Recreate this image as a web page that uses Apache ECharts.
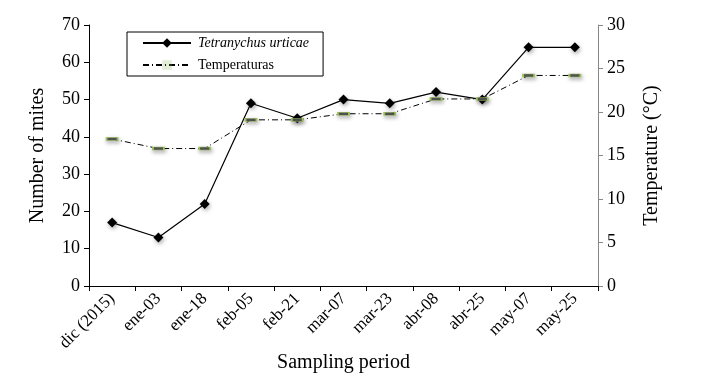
<!DOCTYPE html>
<html><head><meta charset="utf-8">
<script src="https://cdn.jsdelivr.net/npm/echarts@6/dist/echarts.min.js"></script>
<style>html,body{margin:0;padding:0;background:#fff}#c{width:707px;height:386px}</style>
</head><body><div id="c"></div>
<script>
const categories = ['dic (2015)','ene-03','ene-18','feb-05','feb-21','mar-07','mar-23','abr-08','abr-25','may-07','may-25'];
const mites = [17, 13, 22, 49, 45, 50, 49, 52, 50, 64, 64];
const temperature = [16.9, 15.8, 15.8, 19.1, 19.1, 19.8, 19.8, 21.5, 21.5, 24.2, 24.2];
const leftTicks = {min: 0, max: 70, interval: 10};
const rightTicks = {min: 0, max: 30, interval: 5};

const F = 'Liberation Serif, Times New Roman, serif';
const chart = echarts.init(document.getElementById('c'));
chart.setOption({
  animation: false,
  backgroundColor: '#fff',
  grid: {left: 89, right: 109, top: 25, bottom: 100},
  legend: {
    orient: 'vertical', left: 127, top: 32,
    borderColor: '#000', borderWidth: 1, padding: [4, 14, 4, 15],
    itemWidth: 48, itemHeight: 12, itemGap: 8,
    textStyle: {fontFamily: F, fontSize: 14, color: '#000', padding: [0, 0, 0, 2]},
    data: [
      {name: 'Tetranychus urticae', textStyle: {fontStyle: 'italic'}, itemStyle: {shadowBlur: 0, shadowOffsetX: 0, shadowOffsetY: 0}},
      {name: 'Temperaturas', itemStyle: {borderWidth: 0, color: '#8fb55a', opacity: 0.25, shadowBlur: 0, shadowOffsetX: 0, shadowOffsetY: 0}}
    ]
  },
  xAxis: {
    type: 'category', data: categories, boundaryGap: true,
    name: 'Sampling period', nameLocation: 'middle', nameGap: 67, nameMoveOverlap: false,
    nameTextStyle: {fontFamily: F, fontSize: 20, color: '#000'},
    axisLine: {lineStyle: {color: '#000', width: 1}},
    axisTick: {show: true, length: 5, alignWithLabel: false, lineStyle: {color: '#000'}},
    axisLabel: {rotate: 45, fontFamily: F, fontSize: 17, color: '#000', margin: 10, interval: 0}
  },
  yAxis: [{
    type: 'value', min: leftTicks.min, max: leftTicks.max, interval: leftTicks.interval,
    name: 'Number of mites', nameLocation: 'middle', nameGap: 41, nameRotate: 90,
    nameTextStyle: {fontFamily: F, fontSize: 20, color: '#000'},
    axisLine: {show: true, lineStyle: {color: '#000'}},
    axisTick: {show: true, length: 5, lineStyle: {color: '#000'}},
    splitLine: {show: false},
    axisLabel: {fontFamily: F, fontSize: 18, color: '#000', margin: 9}
  }, {
    type: 'value', min: rightTicks.min, max: rightTicks.max, interval: rightTicks.interval,
    position: 'right',
    name: 'Temperature (°C)', nameLocation: 'middle', nameGap: 44, nameRotate: 90,
    nameTextStyle: {fontFamily: F, fontSize: 20, color: '#000'},
    axisLine: {show: true, lineStyle: {color: '#888'}},
    axisTick: {show: true, length: 5, lineStyle: {color: '#888'}},
    splitLine: {show: false},
    axisLabel: {fontFamily: F, fontSize: 18, color: '#000', margin: 9}
  }],
  series: [{
    name: 'Tetranychus urticae', type: 'line', yAxisIndex: 0, data: mites,
    symbol: 'diamond', symbolSize: 10,
    lineStyle: {color: '#000', width: 1.2},
    itemStyle: {color: '#000', shadowBlur: 4, shadowColor: 'rgba(0,0,0,0.35)', shadowOffsetX: 1, shadowOffsetY: 2}
  }, {
    name: 'Temperaturas', type: 'line', yAxisIndex: 1, data: temperature,
    symbol: 'rect', symbolSize: [11, 3],
    lineStyle: {color: '#000', width: 1, type: [6, 3, 1, 3]},
    itemStyle: {color: '#555', borderColor: '#9bc25a', borderWidth: 1, shadowBlur: 4, shadowColor: 'rgba(0,0,0,0.35)', shadowOffsetX: 1, shadowOffsetY: 2}
  }]
});
</script></body></html>
